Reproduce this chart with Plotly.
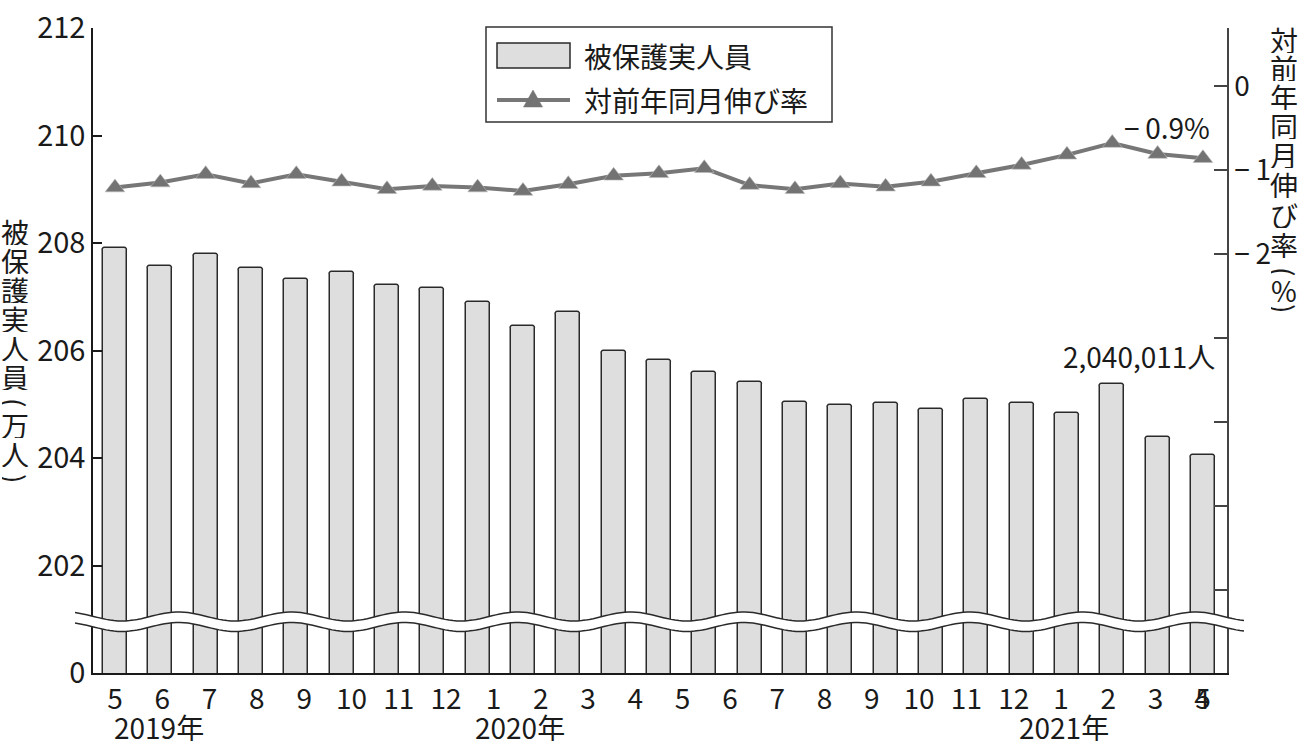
import math
import plotly.graph_objects as go

# ---------------- data ----------------
months = ["5", "6", "7", "8", "9", "10", "11", "12",
          "1", "2", "3", "4", "5", "6", "7", "8", "9", "10", "11", "12",
          "1", "2", "3", "4", "5"]
# 被保護実人員 (万人)
people = [207.91, 207.58, 207.80, 207.54, 207.33, 207.46, 207.22, 207.16,
          206.91, 206.46, 206.71, 206.00, 205.82, 205.60, 205.41, 205.05,
          204.99, 205.03, 204.92, 205.09, 205.02, 204.83, 205.38, 204.40, 204.05]
# 対前年同月伸び率 (%)
growth = [-1.21, -1.15, -1.05, -1.16, -1.05, -1.14, -1.23, -1.19, -1.21, -1.25,
          -1.17, -1.07, -1.04, -0.98, -1.18, -1.23, -1.16, -1.20, -1.14, -1.04,
          -0.94, -0.82, -0.68, -0.81, -0.86]
year_labels = ["2019年", "2020年", "2021年"]
year_label_x = [0.97, 8.93, 20.94]
left_ticks = [200, 202, 204, 206, 208, 210, 212]
left_ticktext = ["0", "202", "204", "206", "208", "210", "212"]
right_ticks = [0, -1, -2, -3, -4, -5, -6]
right_ticktext = ["0", "−\u20091", "−\u20092", "", "", "", ""]
last_people = 2040011
last_growth_label = "−\u20090.9%"

FONT = "Noto Sans CJK JP"
BLACK = "#1a1a1a"

# ---------------- geometry (pixels) ----------------
W, H = 1300, 745
X0, X1, Y0, Y1 = 93, 1227, 28, 673


def px(x):
    return (x - X0) / (X1 - X0)


def py(y):
    return (Y1 - y) / (Y1 - Y0)


n = len(people)
xs = list(range(n))

fig = go.Figure()
fig.add_trace(go.Bar(
    x=xs, y=people, width=0.53,
    marker=dict(color="#dedede", line=dict(color="#2a2a2a", width=1.5), cornerradius=3),
    showlegend=False, hoverinfo="skip",
))
fig.add_trace(go.Scatter(
    x=xs, y=growth, yaxis="y2", mode="lines+markers",
    line=dict(color="#777777", width=4),
    marker=dict(symbol="triangle-up", size=17, color="#737373",
                line=dict(color="#bbbbbb", width=0.6)),
    showlegend=False, hoverinfo="skip",
))

# tick positions: 24 evenly spread labels, the final "5" printed over the "4"
tick_pos = [i * (n - 1) / (n - 2) for i in range(n - 1)]
tick_pos[-1] = n - 1 - 0.02
tick_pos.append(n - 1)

fig.update_layout(
    width=W, height=H, autosize=False,
    margin=dict(l=X0, r=W - X1, t=Y0, b=H - Y1, pad=0, autoexpand=False),
    paper_bgcolor="white", plot_bgcolor="white",
    font=dict(family=FONT, color=BLACK, size=28),
    bargap=0,
    xaxis=dict(range=[-0.485, 24.531], tickmode="array", tickvals=tick_pos,
               ticktext=months, ticks="", tickangle=0, showgrid=False, zeroline=False,
               showline=True, linecolor=BLACK, linewidth=1.5, automargin=False,
               tickfont=dict(size=28, family=FONT, color=BLACK),
               ticklabelstandoff=1),
    yaxis=dict(range=[200, 212.002], tickmode="array", tickvals=left_ticks,
               ticktext=left_ticktext, ticks="inside", ticklen=9, tickwidth=1.5,
               tickcolor=BLACK, showgrid=False, zeroline=False, showline=True,
               linecolor=BLACK, linewidth=1.5, automargin=False,
               tickfont=dict(size=29, family=FONT, color=BLACK)),
    yaxis2=dict(range=[-6.988, 0.690], overlaying="y", side="right",
                tickmode="array", tickvals=right_ticks, ticktext=right_ticktext,
                ticks="inside", ticklen=13, tickwidth=1.5, tickcolor="#444444",
                showgrid=False, zeroline=False, showline=True, automargin=False,
                linecolor="#444444", linewidth=1.5,
                tickfont=dict(size=28, family=FONT, color=BLACK)),
)

shapes = []
annotations = []

# ---------------- axis break (wavy band) ----------------
P = 113.0
XT = 122.0
xa, xb = 75.0, 1244.0
steps = 300


def wave(x, base):
    return base + 4.5 * math.cos(2 * math.pi * (x - XT) / P)


pts_x = [xa + (xb - xa) * k / steps for k in range(steps + 1)]
upper = [(x, wave(x, 616.5)) for x in pts_x]
lower = [(x, wave(x, 627.0)) for x in pts_x]


def to_path(points):
    return "M " + " L ".join(f"{px(x):.5f},{py(y):.5f}" for x, y in points)


band = to_path(upper + lower[::-1]) + " Z"
shapes.append(dict(type="path", path=band, xref="paper", yref="paper",
                   fillcolor="white", line=dict(width=0), layer="above"))
for pts in (upper, lower):
    shapes.append(dict(type="path", path=to_path(pts), xref="paper", yref="paper",
                       line=dict(color="#2a2a2a", width=1.5), layer="above"))

# ---------------- legend (drawn) ----------------
shapes.append(dict(type="rect", xref="paper", yref="paper",
                   x0=px(486), x1=px(832), y0=py(27), y1=py(122),
                   line=dict(color="#333333", width=1.5), fillcolor="white", layer="above"))
shapes.append(dict(type="rect", xref="paper", yref="paper",
                   x0=px(497), x1=px(570), y0=py(43), y1=py(68),
                   line=dict(color="#2a2a2a", width=1.5), fillcolor="#dedede", layer="above"))
shapes.append(dict(type="line", xref="paper", yref="paper",
                   x0=px(497), x1=px(570), y0=py(100), y1=py(100),
                   line=dict(color="#777777", width=4), layer="above"))
tri = f"M {px(523.5)},{py(107)} L {px(542.5)},{py(107)} L {px(533)},{py(90)} Z"
shapes.append(dict(type="path", path=tri, xref="paper", yref="paper",
                   fillcolor="#737373", line=dict(color="#737373", width=0.5), layer="above"))
annotations.append(dict(text="被保護実人員", xref="paper", yref="paper",
                        x=px(582), y=py(56), xanchor="left", yanchor="middle",
                        showarrow=False, font=dict(size=28)))
annotations.append(dict(text="対前年同月伸び率", xref="paper", yref="paper",
                        x=px(582), y=py(100), xanchor="left", yanchor="middle",
                        showarrow=False, font=dict(size=28)))

# ---------------- year labels ----------------
for lbl, xv in zip(year_labels, year_label_x):
    annotations.append(dict(text=lbl, x=xv, xref="x", y=py(727), yref="paper",
                            xanchor="center", yanchor="middle", showarrow=False,
                            height=28, font=dict(size=28)))

# ---------------- value labels ----------------
annotations.append(dict(text=f"{last_people:,}人", x=n - 1 + 0.3, xref="x",
                        y=205.9, yref="y", xanchor="right", yanchor="middle",
                        showarrow=False, font=dict(size=28)))
annotations.append(dict(text=last_growth_label, x=n - 1 + 0.2, xref="x",
                        y=-0.49, yref="y2", xanchor="right", yanchor="middle",
                        showarrow=False, font=dict(size=28)))

# ---------------- vertical axis titles ----------------
left_title = [("被", 232, 0), ("保", 261, 0), ("護", 290, 0), ("実", 319, 0),
              ("人", 348, 0), ("員", 377, 0), ("(", 402, 90), ("万", 425, 0),
              ("人", 454, 0), (")", 478, 90)]
for ch, yy, ang in left_title:
    annotations.append(dict(text=ch, xref="paper", yref="paper", x=px(15), y=py(yy),
                            xanchor="center", yanchor="middle", showarrow=False,
                            textangle=ang, height=26, font=dict(size=28)))
right_title = [("対", 40, 0), ("前", 68, 0), ("年", 97, 0), ("同", 126, 0),
               ("月", 155, 0), ("伸", 185, 0), ("び", 215, 0), ("率", 245, 0),
               ("(", 271, 90), ("%", 290, 0), (")", 308, 90)]
for ch, yy, ang in right_title:
    annotations.append(dict(text=ch, xref="paper", yref="paper", x=px(1284), y=py(yy),
                            xanchor="center", yanchor="middle", showarrow=False,
                            textangle=ang, height=26, font=dict(size=28)))

fig.update_layout(shapes=shapes, annotations=annotations)
fig.write_html("out.html", config={"displayModeBar": False},
               post_script="document.body.style.margin='0';document.body.style.overflow='hidden';")
